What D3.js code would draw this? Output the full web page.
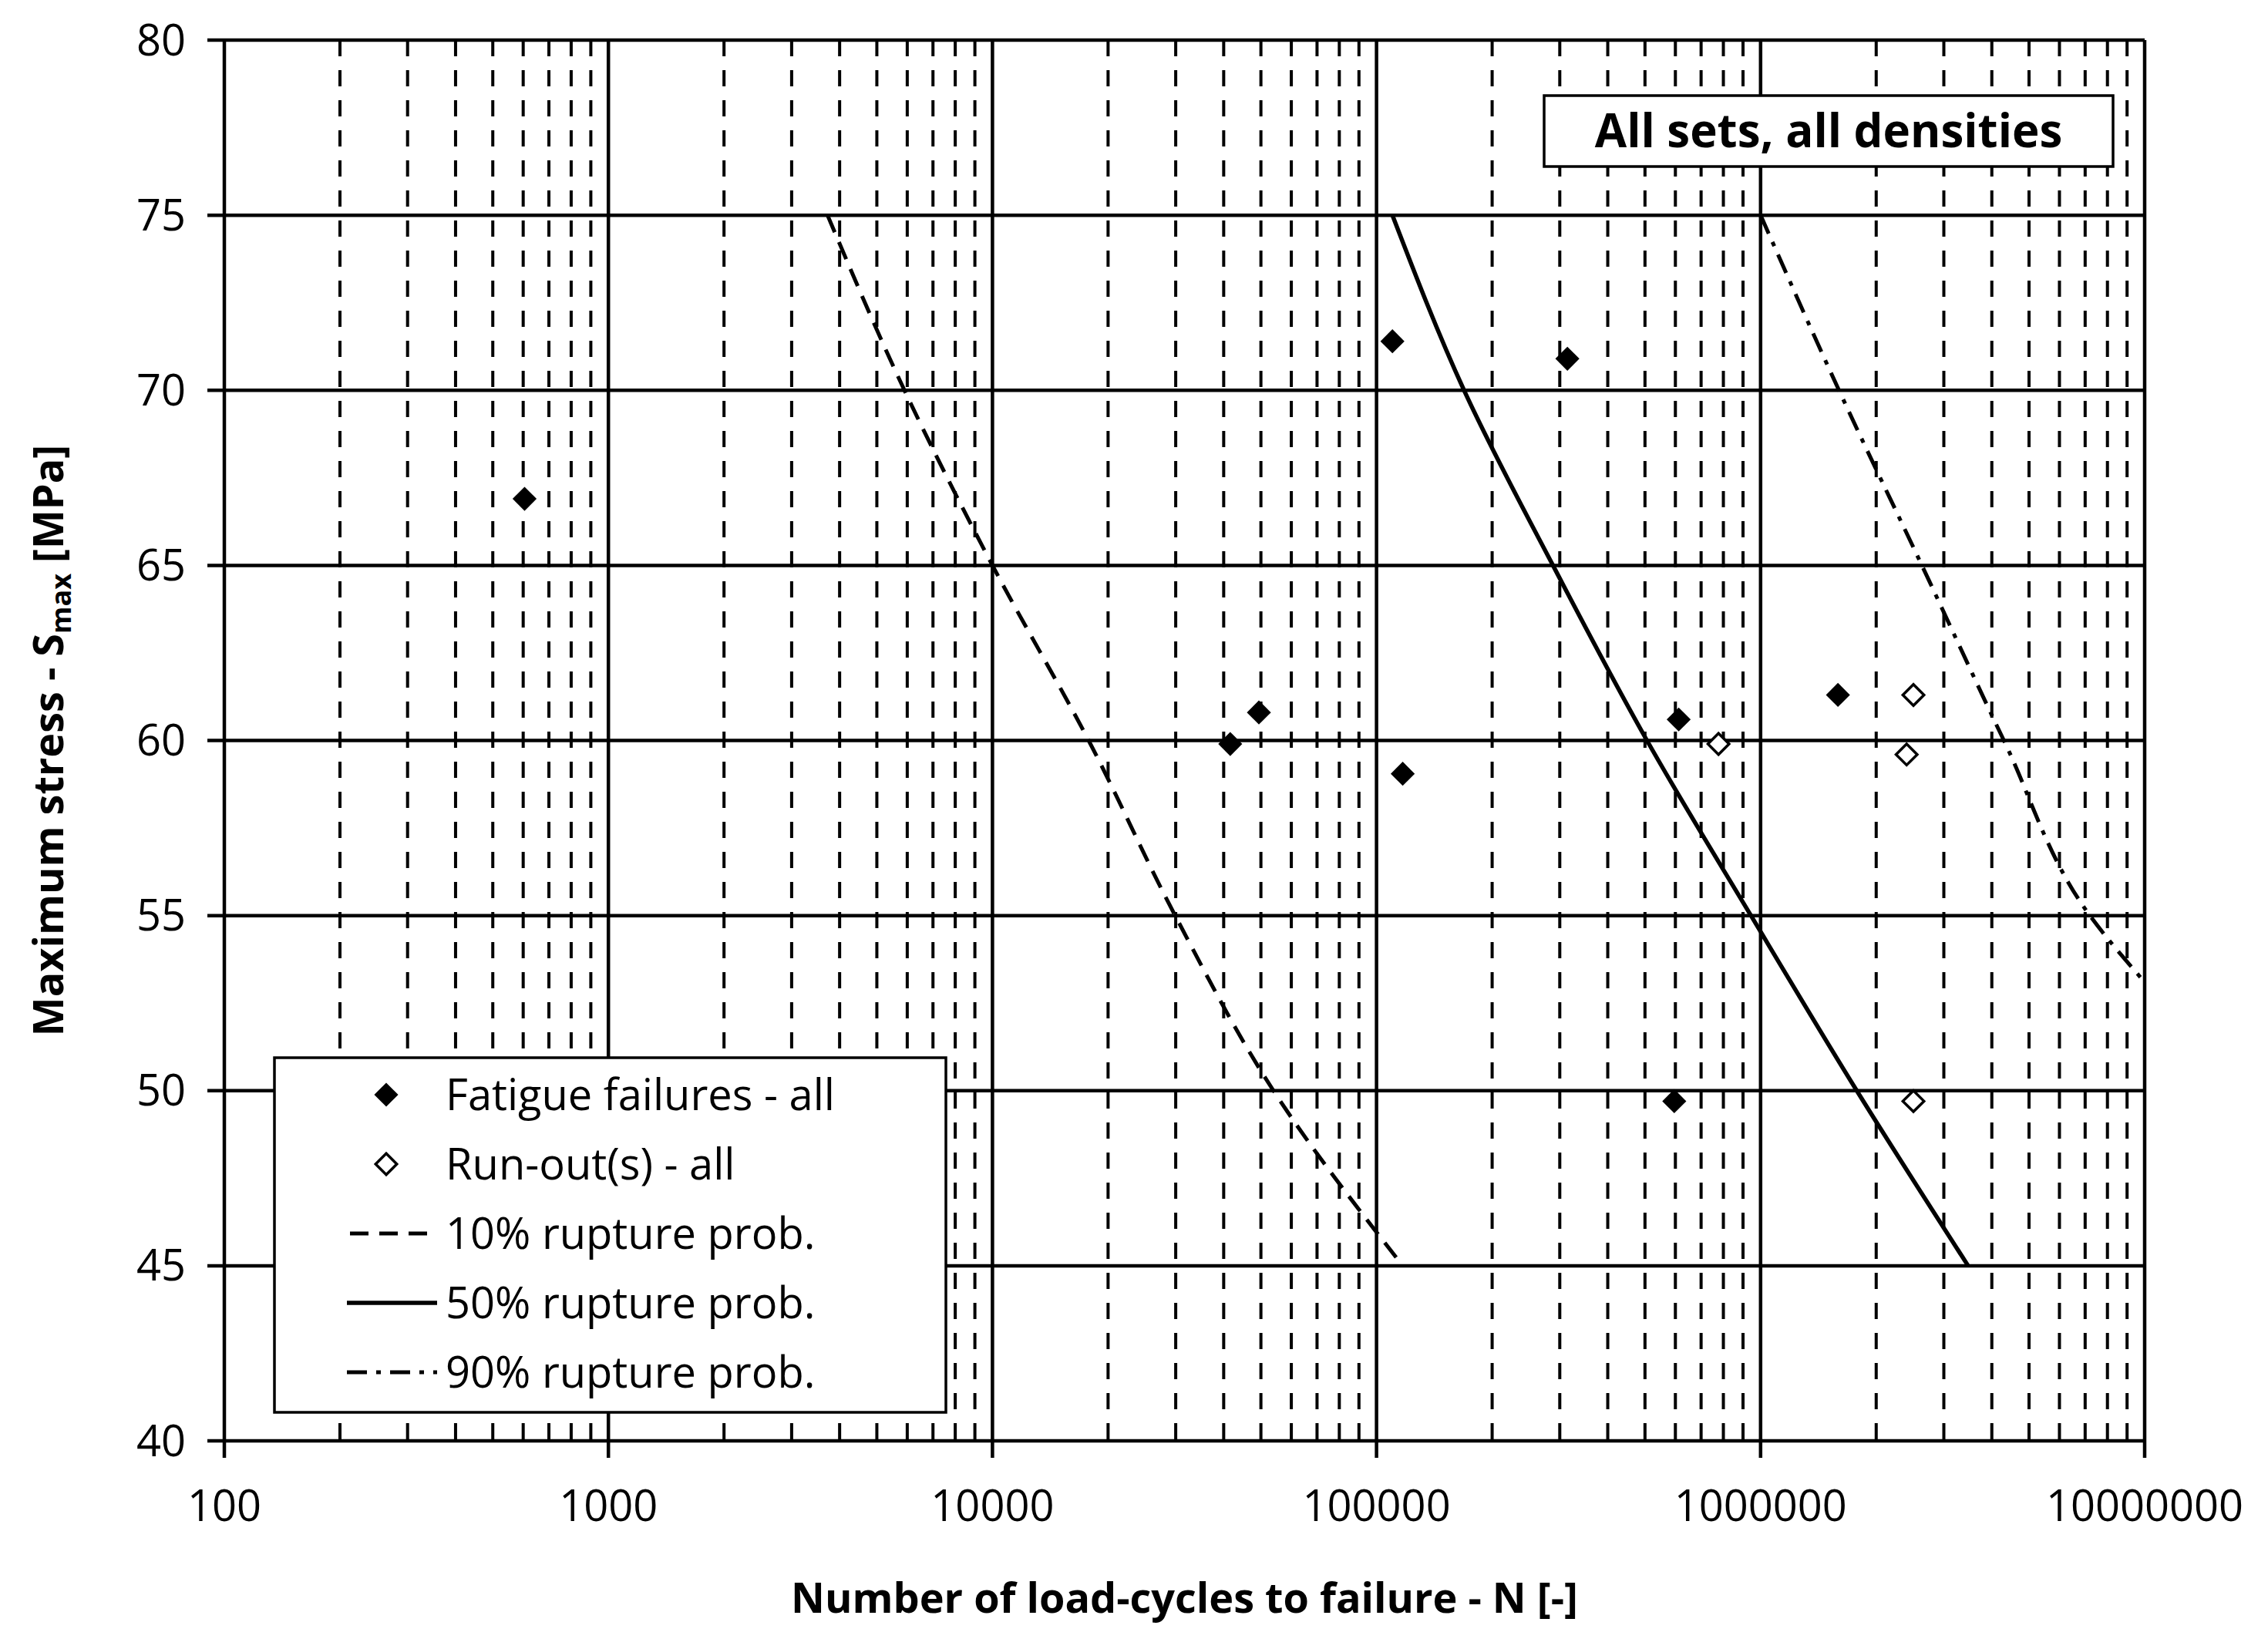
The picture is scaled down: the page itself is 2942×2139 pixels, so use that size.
<!DOCTYPE html>
<html><head><meta charset="utf-8">
<script src="https://cdn.jsdelivr.net/npm/d3@7"></script>
<style>body{margin:0;background:#fff}svg{display:block}text{font-family:"Open Sans",Lato,sans-serif;fill:#000}</style>
</head><body><svg id="c" width="2942" height="2139"></svg>
<script>
const yTicks=[40,45,50,55,60,65,70,75,80];
const xTickLabels=["100","1000","10000","100000","1000000","10000000"];
const failN=[605,41600,49400,110000,117000,314000,612000,596000,1590000];
const failS=[66.9,59.9,60.8,71.4,59.05,70.9,60.6,49.7,61.3];
const runN=[777000,2500000,2400000,2500000];
const runS=[59.9,61.3,59.6,49.7];
const p10N=[3720,5900,10000,17800,29900,53900,117000];
const p10S=[75,70,65,60,55,50,45];
const p50N=[110000,169000,288000,506000,944000,1780000,3470000];
const p50S=[75,70,65,60,55,50,45];
const p90N=[1000000,1600000,2630000,4300000,7200000,10000000];
const p90S=[75,70,65,60,55,53.1];
const legendLabels=["Fatigue failures - all","Run-out(s) - all","10% rupture prob.","50% rupture prob.","90% rupture prob."];

const svg=d3.select("#c");
const L=291,R=2782,T=52,B=1869;
const x=d3.scaleLog().domain([100,1e7]).range([L,R]);
const y=d3.scaleLinear().domain([40,80]).range([B,T]);
const g=svg.append("g");
const minor=[];
for(let d=100;d<1e7;d*=10)for(let k=2;k<=9;k++)minor.push(d*k);
g.selectAll(".mn").data(minor).join("line").attr("x1",d=>x(d)).attr("x2",d=>x(d)).attr("y1",T).attr("y2",B)
 .attr("stroke","#000").attr("stroke-width",4).attr("stroke-dasharray","21,18");
g.selectAll(".mj").data(xTickLabels.map(Number)).join("line").attr("x1",d=>x(d)).attr("x2",d=>x(d)).attr("y1",T).attr("y2",B+22)
 .attr("stroke","#000").attr("stroke-width",4.5);
g.selectAll(".hz").data(yTicks).join("line").attr("x1",L-22).attr("x2",R).attr("y1",d=>y(d)).attr("y2",d=>y(d))
 .attr("stroke","#000").attr("stroke-width",4.5);
g.selectAll(".yl").data(yTicks).join("text").attr("x",L-50).attr("y",d=>y(d)).attr("dy","0.35em")
 .attr("text-anchor","end").attr("font-size",56).text(d=>d);
g.selectAll(".xl").data(xTickLabels).join("text").attr("x",d=>x(+d)).attr("y",B+104)
 .attr("text-anchor","middle").attr("font-size",56).text(d=>d);
const line=d3.line().x(d=>x(d[0])).y(d=>y(d[1])).curve(d3.curveMonotoneY);
const zip=(a,b)=>a.map((v,i)=>[v,b[i]]);
g.append("path").attr("d",line(zip(p10N,p10S))).attr("fill","none").attr("stroke","#000").attr("stroke-width",5).attr("stroke-dasharray","24,14");
g.append("path").attr("d",line(zip(p50N,p50S))).attr("fill","none").attr("stroke","#000").attr("stroke-width",5.5);
g.append("path").attr("d",line(zip(p90N,p90S))).attr("fill","none").attr("stroke","#000").attr("stroke-width",5).attr("stroke-dasharray","26,12,6,12");
const dia=d3.symbol().type(d3.symbolDiamond2).size(620);
const dia2=d3.symbol().type(d3.symbolDiamond2).size(480);
g.selectAll(".f").data(zip(failN,failS)).join("path").attr("d",dia).attr("transform",d=>`translate(${x(d[0])},${y(d[1])})`).attr("fill","#000");
g.selectAll(".r").data(zip(runN,runS)).join("path").attr("d",dia2).attr("transform",d=>`translate(${x(d[0])},${y(d[1])})`).attr("fill","#fff").attr("stroke","#000").attr("stroke-width",3.5);
const lg=svg.append("g");
lg.append("rect").attr("x",356).attr("y",1372).attr("width",871).attr("height",460).attr("fill","#fff").attr("stroke","#000").attr("stroke-width",3.5);
const ly=[1420,1510,1600,1690,1780];
lg.selectAll("text").data(legendLabels).join("text").attr("x",578).attr("y",(d,i)=>ly[i]).attr("dy","0.35em").attr("font-size",56).text(d=>d);
lg.append("path").attr("d",dia).attr("transform",`translate(501,${ly[0]})`).attr("fill","#000");
lg.append("path").attr("d",dia2).attr("transform",`translate(501,${ly[1]})`).attr("fill","#fff").attr("stroke","#000").attr("stroke-width",3.5);
lg.append("line").attr("x1",450).attr("x2",567).attr("y1",ly[2]).attr("y2",ly[2]).attr("stroke","#000").attr("stroke-width",5).attr("stroke-dasharray","24,14").attr("stroke-dashoffset",-4);
lg.append("line").attr("x1",450).attr("x2",567).attr("y1",ly[3]).attr("y2",ly[3]).attr("stroke","#000").attr("stroke-width",5.5);
lg.append("line").attr("x1",450).attr("x2",567).attr("y1",ly[4]).attr("y2",ly[4]).attr("stroke","#000").attr("stroke-width",5).attr("stroke-dasharray","26,12,6,12");
svg.append("rect").attr("x",2003).attr("y",124).attr("width",738).attr("height",92).attr("fill","#fff").attr("stroke","#000").attr("stroke-width",3.5);
svg.append("text").attr("x",2372).attr("y",170).attr("dy","0.35em").attr("text-anchor","middle").attr("font-size",60).attr("font-weight","bold").text("All sets, all densities");
svg.append("text").attr("x",(L+R)/2).attr("y",2092).attr("text-anchor","middle").attr("font-size",54).attr("font-weight","bold").text("Number of load-cycles to failure - N [-]");
const yt=svg.append("text").attr("transform",`translate(82,${(T+B)/2}) rotate(-90)`).attr("text-anchor","middle").attr("font-size",54).attr("font-weight","bold");
yt.append("tspan").text("Maximum stress - S");
yt.append("tspan").attr("font-size",36).attr("dy",10).text("max");
yt.append("tspan").attr("dy",-10).text(" [MPa]");
</script></body></html>
